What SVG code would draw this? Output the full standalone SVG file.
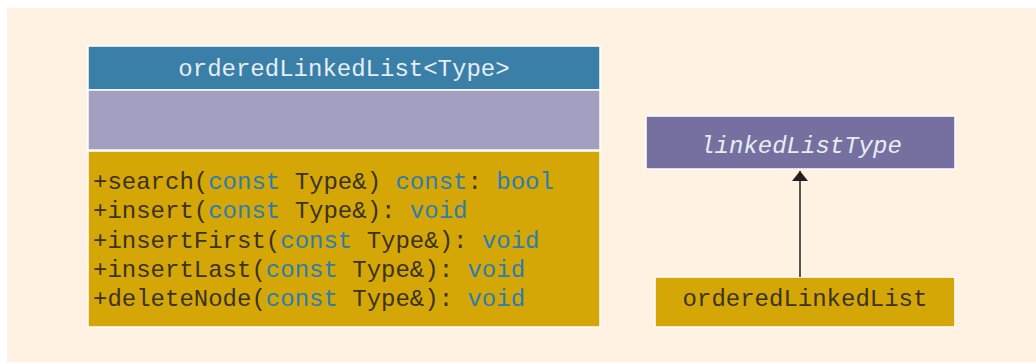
<svg xmlns="http://www.w3.org/2000/svg" width="1036" height="362" viewBox="0 0 1036 362">
<style>
.box{stroke:#ffffff;stroke-width:1.5}
.mono{font-family:"Liberation Mono","Courier New",monospace;font-size:24px}
.dark{fill:#3b3220}
.kw{fill:#2b7db2}
.lt{fill:#e6eef4}
</style>
<defs>
<marker id="arr" viewBox="0 0 10 16" refX="10" refY="8" markerWidth="10" markerHeight="16" markerUnits="userSpaceOnUse" orient="auto">
<path d="M0,0 L10,8 L0,16 z" fill="#231f20"/>
</marker>
</defs>
<rect x="7" y="8" width="1029" height="354" fill="#fff2e3"/>
<g id="orderedLinkedListType">
<rect class="box" x="88" y="46" width="512" height="44" fill="#3a7fa8"/>
<rect class="box" x="88" y="90" width="512" height="60" fill="#a29fc0"/>
<rect class="box" x="88" y="151" width="512" height="176" fill="#d4a706"/>
<text class="mono lt" x="344" y="76" text-anchor="middle">orderedLinkedList&lt;Type&gt;</text>
<text class="mono dark" x="93" y="189">+search(<tspan class="kw">const</tspan> Type&amp;) <tspan class="kw">const</tspan>: <tspan class="kw">bool</tspan></text>
<text class="mono dark" x="93" y="218">+insert(<tspan class="kw">const</tspan> Type&amp;): <tspan class="kw">void</tspan></text>
<text class="mono dark" x="93" y="248">+insertFirst(<tspan class="kw">const</tspan> Type&amp;): <tspan class="kw">void</tspan></text>
<text class="mono dark" x="93" y="277">+insertLast(<tspan class="kw">const</tspan> Type&amp;): <tspan class="kw">void</tspan></text>
<text class="mono dark" x="93" y="306">+deleteNode(<tspan class="kw">const</tspan> Type&amp;): <tspan class="kw">void</tspan></text>
</g>
<g id="linkedListType">
<rect class="box" x="646" y="116" width="309" height="53" fill="#75709f"/>
<text class="mono lt" x="801" y="153" text-anchor="middle" font-style="italic">linkedListType</text>
</g>
<g id="orderedLinkedList">
<rect class="box" x="655" y="277" width="300" height="50" fill="#d4a706"/>
<text class="mono dark" x="805" y="306" text-anchor="middle">orderedLinkedList</text>
</g>
<g id="connectors">
<line x1="800" y1="277" x2="800" y2="171" stroke="#231f20" stroke-width="1.5" marker-end="url(#arr)"/>
</g>
</svg>
